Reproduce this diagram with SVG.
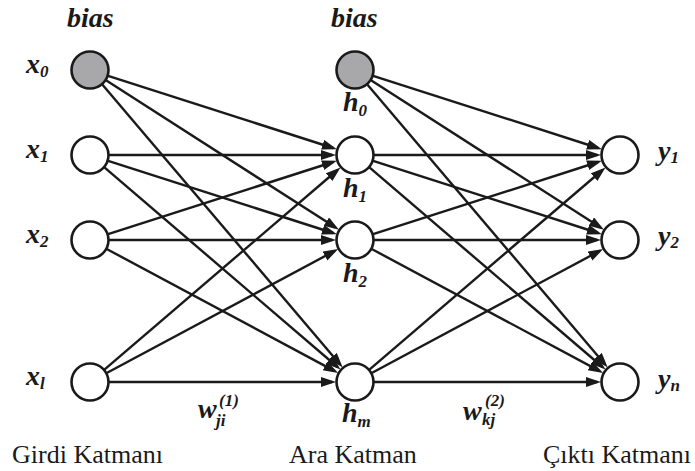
<svg xmlns="http://www.w3.org/2000/svg" width="695" height="471" viewBox="0 0 695 471">
<style>
.n{fill:#fff;stroke:#1a1a1a;stroke-width:2.6}
.b{fill:#a8a8aa;stroke:#1a1a1a;stroke-width:2.6}
.c line{stroke:#1a1a1a;stroke-width:2.4;marker-end:url(#ah)}
.l{font-family:"Liberation Serif","Times New Roman",serif;font-style:italic;font-weight:bold;font-size:28px;fill:#1a1a1a}
.s{font-size:17px}
.t{font-family:"Liberation Serif","Times New Roman",serif;font-size:26px;fill:#1a1a1a}
</style>
<defs>
<marker id="ah" markerUnits="userSpaceOnUse" markerWidth="16" markerHeight="12" refX="11" refY="5" orient="auto">
<path d="M0,0 L15,5 L0,10 z" fill="#1a1a1a"/>
</marker>
</defs>
<rect width="695" height="471" fill="#fff"/>
<g id="connectors" class="c">
<line x1="108.1" y1="75.8" x2="333.1" y2="148.0"/>
<line x1="106.0" y1="80.3" x2="335.6" y2="227.6"/>
<line x1="102.3" y1="84.5" x2="340.1" y2="364.5"/>
<line x1="109" y1="155" x2="332" y2="155"/>
<line x1="108.1" y1="160.8" x2="333.1" y2="233.0"/>
<line x1="104.4" y1="167.4" x2="337.5" y2="367.0"/>
<line x1="108.1" y1="234.2" x2="333.1" y2="162.0"/>
<line x1="109" y1="240" x2="332" y2="240"/>
<line x1="106.7" y1="249.0" x2="334.7" y2="371.1"/>
<line x1="104.4" y1="369.6" x2="337.5" y2="170.0"/>
<line x1="106.7" y1="373.0" x2="334.7" y2="250.9"/>
<line x1="109" y1="382" x2="332" y2="382"/>
<line x1="373.1" y1="75.8" x2="598.1" y2="148.0"/>
<line x1="371.0" y1="80.3" x2="600.6" y2="227.6"/>
<line x1="367.3" y1="84.5" x2="605.1" y2="364.5"/>
<line x1="374" y1="155" x2="597" y2="155"/>
<line x1="373.1" y1="160.8" x2="598.1" y2="233.0"/>
<line x1="369.4" y1="167.4" x2="602.5" y2="367.0"/>
<line x1="373.1" y1="234.2" x2="598.1" y2="162.0"/>
<line x1="374" y1="240" x2="597" y2="240"/>
<line x1="371.7" y1="249.0" x2="599.7" y2="371.1"/>
<line x1="369.4" y1="369.6" x2="602.5" y2="170.0"/>
<line x1="371.7" y1="373.0" x2="599.7" y2="250.9"/>
<line x1="374" y1="382" x2="597" y2="382"/>
</g>
<g id="x0"><circle class="b" cx="90" cy="70" r="18.5"/><text class="l" x="26" y="73">x<tspan class="s" dy="4">0</tspan></text></g>
<g id="x1"><circle class="n" cx="90" cy="155" r="18.5"/><text class="l" x="26" y="158">x<tspan class="s" dy="4">1</tspan></text></g>
<g id="x2"><circle class="n" cx="90" cy="240" r="18.5"/><text class="l" x="26" y="243">x<tspan class="s" dy="4">2</tspan></text></g>
<g id="xl"><circle class="n" cx="90" cy="382" r="18.5"/><text class="l" x="26" y="385">x<tspan class="s" dy="4">l</tspan></text></g>
<g id="h0"><circle class="b" cx="355" cy="70" r="18.5"/><text class="l" x="343" y="111">h<tspan class="s" dy="5">0</tspan></text></g>
<g id="h1"><circle class="n" cx="355" cy="155" r="18.5"/><text class="l" x="343" y="197">h<tspan class="s" dy="5">1</tspan></text></g>
<g id="h2"><circle class="n" cx="355" cy="240" r="18.5"/><text class="l" x="343" y="282">h<tspan class="s" dy="5">2</tspan></text></g>
<g id="hm"><circle class="n" cx="355" cy="382" r="18.5"/><text class="l" x="342" y="422">h<tspan class="s" dy="5">m</tspan></text></g>
<g id="y1"><circle class="n" cx="620" cy="155" r="18.5"/><text class="l" x="658" y="160">y<tspan class="s" dy="3">1</tspan></text></g>
<g id="y2"><circle class="n" cx="620" cy="240" r="18.5"/><text class="l" x="658" y="245">y<tspan class="s" dy="3">2</tspan></text></g>
<g id="yn"><circle class="n" cx="620" cy="382" r="18.5"/><text class="l" x="658" y="388">y<tspan class="s" dy="3">n</tspan></text></g>
<g id="labels">
<text class="l" x="67" y="27" font-size="25">bias</text>
<text class="l" x="331" y="27" font-size="25">bias</text>
<text class="l" x="198" y="418">w</text>
<text class="l s" x="219" y="406">(1)</text>
<text class="l s" x="216" y="426">ji</text>
<text class="l" x="463" y="420">w</text>
<text class="l s" x="485" y="406">(2)</text>
<text class="l s" x="482" y="425">kj</text>
<text class="t" x="12" y="463">Girdi Katmanı</text>
<text class="t" x="289" y="463">Ara Katman</text>
<text class="t" x="543" y="463">Çıktı Katmanı</text>
</g>
</svg>
